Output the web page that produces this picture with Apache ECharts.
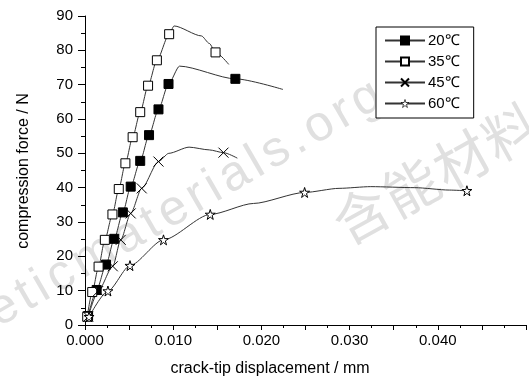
<!DOCTYPE html>
<html>
<head>
<meta charset="utf-8">
<script src="https://cdn.jsdelivr.net/npm/echarts@6/dist/echarts.min.js"></script>
<style>
  html, body { margin: 0; padding: 0; background: #fff; }
  #main { width: 529px; height: 379px; }
</style>
</head>
<body>
<div id="main"></div>
<script>
// legend names
var temps = ['20℃', '35℃', '45℃', '60℃'];

// crack-tip displacement (mm), force (N), 1 = marker drawn at that point
var x20 = [0.00035, 0.00132, 0.00239, 0.00332, 0.00429, 0.00518, 0.00626, 0.00726, 0.00833, 0.00947, 0.01072, 0.01705, 0.02245];
var f20 = [2.6, 10.2, 17.6, 25.1, 32.8, 40.3, 47.8, 55.3, 62.8, 70.2, 75.4, 71.7, 68.6];
var m20 = [1, 1, 1, 1, 1, 1, 1, 1, 1, 1, 0, 1, 0];

var x35 = [0.00025, 0.00082, 0.00154, 0.00225, 0.00311, 0.00383, 0.00458, 0.0054, 0.00626, 0.00715, 0.00815, 0.00954, 0.0101, 0.0132, 0.0141, 0.0148, 0.0163];
var f35 = [2.4, 9.6, 17.0, 24.8, 32.2, 39.6, 47.1, 54.7, 62.0, 69.7, 77.1, 84.7, 87.1, 84.2, 82.0, 79.4, 75.9];
var m35 = [1, 1, 1, 1, 1, 1, 1, 1, 1, 1, 1, 1, 0, 0, 0, 1, 0];

var x45 = [0.00036, 0.0015, 0.00315, 0.00405, 0.00518, 0.00643, 0.00833, 0.0095, 0.0118, 0.0141, 0.0157, 0.01727];
var f45 = [2.4, 9.9, 17.1, 24.8, 32.5, 39.8, 47.6, 50.0, 51.8, 51.0, 50.2, 48.6];
var m45 = [1, 1, 1, 1, 1, 1, 1, 0, 0, 0, 1, 0];

var x60 = [0.00046, 0.0026, 0.0051, 0.0089, 0.0142, 0.0191, 0.0249, 0.0288, 0.0324, 0.0374, 0.0413, 0.0433];
var f60 = [2.4, 9.9, 17.3, 24.8, 32.2, 35.4, 38.6, 39.8, 40.3, 40.0, 39.3, 39.1];
var m60 = [1, 1, 1, 1, 1, 0, 1, 0, 0, 0, 0, 1];

var starPath = 'path://M50,2L61,37L98,37L68,59L79,95L50,73L21,95L32,59L2,37L39,37Z';
var crossPath = 'path://M0,0L10,10M10,0L0,10';

function toData(xs, fs, ms) {
  return xs.map(function (v, i) {
    var d = { value: [v, fs[i]] };
    if (!ms[i]) d.symbol = 'none';
    return d;
  });
}

function makeSeries(name, xs, fs, ms, symbol, size, fill) {
  return {
    name: name,
    type: 'line',
    data: toData(xs, fs, ms),
    smooth: 0.25,
    smoothMonotone: 'x',
    symbol: symbol,
    symbolSize: size,
    showSymbol: true,
    lineStyle: { color: '#333', width: 1 },
    itemStyle: { color: fill, borderColor: '#000', borderWidth: 1 },
    emphasis: { disabled: true }
  };
}

var font = 'Liberation Sans, Arial, sans-serif';

// faint site watermark, laid out letter by letter (spaced out like the original)
var measureCtx = document.createElement('canvas').getContext('2d');
function spacedText(str, fontCss, x0, y0, deg, extra) {
  var a = deg * Math.PI / 180;
  var out = [];
  var pos = 0;
  measureCtx.font = fontCss;
  for (var i = 0; i < str.length; i++) {
    out.push({
      type: 'text', z: -10, silent: true,
      x: x0 + pos * Math.cos(a), y: y0 - pos * Math.sin(a), rotation: a,
      style: { text: str[i], font: fontCss, fill: '#e0e0e0', textAlign: 'left', textVerticalAlign: 'top' }
    });
    pos += measureCtx.measureText(str[i]).width + extra;
  }
  return out;
}

var chart = echarts.init(document.getElementById('main'), null, { renderer: 'canvas' });

var graphics = []
  .concat(spacedText('eticmaterials.org.cn', '50px ' + font, -21, 294, 30, 5))
  .concat(spacedText('含能材料', '55px "Noto Sans CJK SC"', 324, 204, 29, 2))
  .concat([
    {
      type: 'text',
      x: 270, y: 369,
      style: { text: 'crack-tip displacement / mm', font: '16px ' + font, fill: '#000', textAlign: 'center', textVerticalAlign: 'middle' }
    },
    {
      type: 'text',
      x: 24, y: 171, rotation: Math.PI / 2,
      style: { text: 'compression force / N', font: '16px ' + font, fill: '#000', textAlign: 'center', textVerticalAlign: 'middle' }
    }
  ]);

var option = {
  animation: false,
  backgroundColor: '#fff',
  textStyle: { fontFamily: font },
  grid: { left: 85, top: 16, width: 466, height: 309, containLabel: false },
  legend: {
    data: [
      { name: temps[0] },
      { name: temps[1] },
      { name: temps[2] },
      { name: temps[3], itemStyle: { borderWidth: 0.7 } }
    ],
    orient: 'vertical',
    left: 376,
    top: 27,
    padding: [6, 14, 7, 8],
    itemWidth: 40,
    itemHeight: 10,
    itemGap: 6,
    backgroundColor: '#fff',
    borderColor: '#000',
    borderWidth: 1,
    textStyle: { fontSize: 15, color: '#000', fontFamily: font, padding: [0, 0, 0, -2] }
  },
  xAxis: {
    type: 'value',
    min: 0,
    max: 0.05,
    interval: 0.005,
    splitLine: { show: false },
    axisLine: { lineStyle: { color: '#000', width: 1 } },
    axisTick: { inside: false, length: 5, lineStyle: { color: '#000' } },
    minorTick: { show: true, splitNumber: 2, length: 3, lineStyle: { color: '#000' } },
    axisLabel: {
      margin: 8,
      fontSize: 15,
      color: '#000',
      fontFamily: font,
      formatter: function (v) {
        var k = v * 100;
        return Math.abs(k - Math.round(k)) < 1e-6 && v < 0.045 ? v.toFixed(3) : '';
      }
    }
  },
  yAxis: {
    type: 'value',
    min: 0,
    max: 90,
    interval: 10,
    splitLine: { show: false },
    axisLine: { show: true, lineStyle: { color: '#000', width: 1 } },
    axisTick: { show: true, inside: false, length: 7, lineStyle: { color: '#000' } },
    minorTick: { show: true, splitNumber: 2, length: 4, lineStyle: { color: '#000' } },
    axisLabel: { margin: 12, fontSize: 15, color: '#000', fontFamily: font }
  },
  graphic: graphics,
  series: [
    makeSeries(temps[0], x20, f20, m20, 'rect', 9, '#000'),
    makeSeries(temps[1], x35, f35, m35, 'rect', 9, '#fff'),
    makeSeries(temps[2], x45, f45, m45, crossPath, 10, 'none'),
    makeSeries(temps[3], x60, f60, m60, starPath, 10, '#fff')
  ]
};

chart.setOption(option);
</script>
</body>
</html>
